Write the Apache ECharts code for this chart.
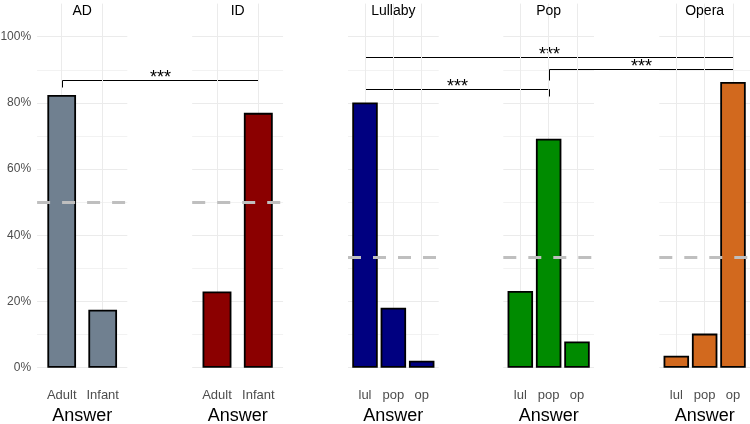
<!DOCTYPE html>
<html>
<head>
<meta charset="utf-8">
<script src="https://cdn.jsdelivr.net/npm/echarts@6/dist/echarts.min.js"></script>
<style>
  html, body { margin: 0; padding: 0; background: #fff; }
  #main { width: 750px; height: 424px; }
</style>
</head>
<body>
<div id="main"></div>
<script>
// facets and answers
var panelNames = ['AD', 'ID', 'Lullaby', 'Pop', 'Opera'];
var leftAnswers = ['Adult', 'Infant'];
var rightAnswers = ['lul', 'pop', 'op'];

// percent of answers per facet
var adValues = [82.4, 17.5];
var idValues = [23.0, 77.0];
var lullabyValues = [80.1, 18.1, 2.1];
var popValues = [23.2, 69.2, 7.9];
var operaValues = [3.6, 10.3, 86.3];

var chanceLevels = [50, 50, 100 / 3, 100 / 3, 100 / 3];
var yTicks = [0, 20, 40, 60, 80, 100];

// significance brackets: [panel, answer]
var sigLabels = ['***', '***', '***', '***'];
var sigFrom = [[0, 'Adult'], [2, 'lul'], [2, 'lul'], [3, 'pop']];
var sigTo = [[1, 'Infant'], [3, 'pop'], [4, 'op'], [4, 'op']];
var sigHeights = [86.9, 84.2, 94.0, 90.2];
var sigTips = [2.1, 2.0, 1.9, 3.2];

var panelValues = [adValues, idValues, lullabyValues, popValues, operaValues];
var panelAnswers = [leftAnswers, leftAnswers, rightAnswers, rightAnswers, rightAnswers];
var barColors = ['#708090', '#8b0000', '#000080', '#008b00', '#d2691e'];
var barRatio = [0.7, 0.7, 0.9, 0.9, 0.9];

var FONT = '"Liberation Sans", Arial, Helvetica, sans-serif';
var GRID_TOP = 20.15, GRID_H = 364.1;
var layout = [
	{ left: 37.1, width: 90.2 },
	{ left: 192.2, width: 90.9 },
	{ left: 348, width: 90.7 },
	{ left: 503.3, width: 90.7 },
	{ left: 659.3, width: 90.7 }
];

var chart = echarts.init(document.getElementById('main'), null, { renderer: 'canvas' });

var grids = [], xAxes = [], yAxes = [], series = [], titles = [];

panelNames.forEach(function(name, g) {
	var answers = panelAnswers[g];
	var n = answers.length;
	var unit = layout[g].width / (n + 0.2);
	var positions = answers.map(function(a, i) { return i + 1; });

	grids.push({
		left: layout[g].left, top: GRID_TOP,
		width: layout[g].width, height: GRID_H,
		outerBoundsMode: 'none', containLabel: false
	});

	titles.push({
		text: name,
		left: layout[g].left + layout[g].width / 2,
		top: 4,
		textAlign: 'center',
		padding: 0,
		textStyle: { fontFamily: FONT, fontSize: 14, fontWeight: 'normal', color: '#000' }
	});

	xAxes.push({
		type: 'value', gridIndex: g,
		min: 0.4, max: n + 0.6,
		axisLine: { show: false },
		splitLine: { show: false },
		axisTick: {
			show: true, inside: true, length: GRID_H,
			customValues: positions,
			lineStyle: { color: '#ebebeb', width: 1 }
		},
		axisLabel: {
			customValues: positions,
			margin: 5,
			fontFamily: FONT, fontSize: 13, color: '#4d4d4d',
			formatter: function(v) { return answers[Math.round(v) - 1] || ''; }
		},
		name: 'Answer',
		nameLocation: 'middle',
		nameGap: 19,
		nameTextStyle: { fontFamily: FONT, fontSize: 18, color: '#000' }
	});

	yAxes.push({
		type: 'value', gridIndex: g,
		min: -5, max: 105, interval: 5,
		axisLine: { show: false },
		axisTick: { show: false },
		axisLabel: {
			show: g === 0,
			margin: 6,
			fontFamily: FONT, fontSize: 12, color: '#4d4d4d',
			formatter: function(v) { return yTicks.indexOf(v) >= 0 ? v + '%' : ''; }
		},
		splitLine: {
			show: true,
			lineStyle: { color: ['rgba(0,0,0,0)', '#ebebeb', 'rgba(0,0,0,0)', '#f2f2f2'], width: 1 }
		}
	});

	series.push({
		type: 'bar',
		xAxisIndex: g, yAxisIndex: g,
		barWidth: unit * barRatio[g],
		data: panelValues[g].map(function(v, i) { return [positions[i], v]; }),
		itemStyle: { color: barColors[g], borderColor: '#000', borderWidth: 1.8 },
		silent: true,
		markLine: {
			silent: true,
			symbol: 'none',
			label: { show: false },
			lineStyle: { color: '#bfbfbf', width: 3, type: [13, 12] },
			data: [{ yAxis: chanceLevels[g] }]
		}
	});
});

chart.setOption({
	animation: false,
	backgroundColor: '#fff',
	title: titles,
	grid: grids,
	xAxis: xAxes,
	yAxis: yAxes,
	series: series
});

// brackets on top, placed through each facet's own axes
function toPixel(ref, y) {
	var g = ref[0];
	var x = panelAnswers[g].indexOf(ref[1]) + 1;
	var p = chart.convertToPixel({ xAxisIndex: g, yAxisIndex: g }, [x, y]);
	return [Math.round(p[0]) + 0.5, Math.round(p[1]) + 0.5];
}

var graphics = [];
sigLabels.forEach(function(label, k) {
	var top1 = toPixel(sigFrom[k], sigHeights[k]);
	var top2 = toPixel(sigTo[k], sigHeights[k]);
	var low1 = toPixel(sigFrom[k], sigHeights[k] - sigTips[k]);
	var low2 = toPixel(sigTo[k], sigHeights[k] - sigTips[k]);
	graphics.push({
		type: 'polyline',
		shape: { points: [low1, top1, top2, low2] },
		style: { stroke: '#000', lineWidth: 1, fill: null },
		silent: true
	});
	graphics.push({
		type: 'text',
		x: (top1[0] + top2[0]) / 2,
		y: top1[1] - 2,
		style: {
			text: label, align: 'center', verticalAlign: 'middle',
			font: '18px ' + FONT, fill: '#000'
		},
		silent: true
	});
});

chart.setOption({ graphic: graphics });
</script>
</body>
</html>
